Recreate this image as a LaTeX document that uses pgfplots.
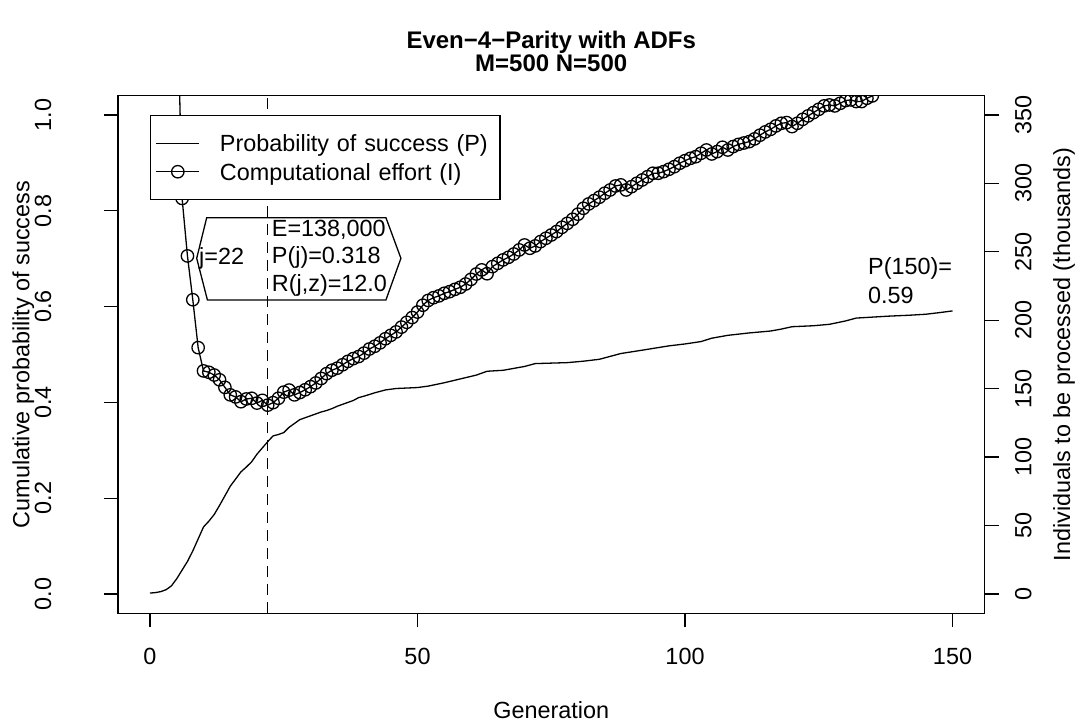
\documentclass[border=0pt]{standalone}
\usepackage{fontspec}
\setmainfont{Liberation Sans}
\usepackage{pgfplots}
\pgfplotsset{compat=1.18}
\pgfplotstableread{
g P
0 0.002
1 0.003
2 0.005
3 0.009
4 0.017
5 0.032
6 0.050
7 0.068
8 0.090
9 0.115
10 0.140
11 0.152
12 0.166
13 0.185
14 0.205
15 0.225
16 0.240
17 0.255
18 0.265
19 0.276
20 0.292
21 0.305
22 0.318
23 0.330
24 0.333
25 0.337
26 0.348
27 0.356
28 0.364
29 0.368
30 0.372
31 0.376
32 0.380
33 0.383
34 0.387
35 0.392
36 0.396
37 0.400
38 0.404
39 0.410
40 0.413
42 0.420
44 0.426
46 0.429
48 0.430
50 0.431
52 0.434
55 0.441
58 0.449
61 0.457
63 0.465
66 0.467
70 0.475
72 0.481
75 0.482
78 0.483
81 0.486
84 0.490
88 0.502
92 0.509
97 0.518
100 0.522
103 0.527
105 0.534
108 0.540
112 0.545
116 0.549
118 0.553
120 0.558
124 0.560
127 0.563
130 0.570
132 0.576
135 0.578
138 0.580
142 0.582
145 0.584
148 0.588
150 0.591
}\Ptable
\pgfplotstableread{
g I
5 455
6 289
7 247
8 215
9 180
10 163
11 162
12 160
13 156.5
14 151
15 145.5
16 144
17 140.5
18 142.5
19 143
20 139.5
21 141.5
22 138
23 139.8
24 143
25 147.5
26 149
27 145.5
28 147.2
29 149.2
30 151.5
31 154.2
32 157.5
33 161
34 163.5
35 165
36 167.5
37 170
38 172
39 173.5
40 176
41 179
42 181
43 183.5
44 186.5
45 189
46 191.5
47 195
48 198.5
49 202
50 206
51 211
52 214.5
53 216.5
54 217.8
55 219.7
56 220.9
57 222.6
58 224.1
59 226.5
60 229.9
61 233.8
62 236.8
63 234
64 239.2
65 241.6
66 244.1
67 246
68 248.4
69 251.4
70 255
71 252.6
72 254.3
73 257.5
74 259.9
75 262.3
76 264.8
77 267.9
78 270.8
79 273.8
80 277.5
81 281.8
82 285
83 287.4
84 289.9
85 292.8
86 295.2
87 298.1
88 298.9
89 295.2
90 297.6
91 300.1
92 302.5
93 304.9
94 307.4
95 307.4
96 308.6
97 310.3
98 312.2
99 314.7
100 316.6
101 318.3
102 319.5
103 322
104 324.4
105 321.5
106 323.2
107 326.4
108 324.4
109 326.9
110 328.5
111 329.5
112 330.5
113 332.5
114 335.2
115 337.6
116 339.5
117 342
118 343.9
119 344.4
120 341.5
121 343.9
122 346.8
123 349.3
124 351.7
125 354.1
126 356.6
127 357.3
128 356.6
129 358.5
130 360.5
131 361
132 359.8
133 359.8
134 362.2
135 363.9
136 365.8
137 367
138 369
139 371
140 373
}\Itable
\begin{document}
\fontsize{23.4bp}{28bp}\selectfont
\begin{tikzpicture}[x=1bp,y=1bp]
\path[use as bounding box] (0,0) rectangle (1084,722);
\begin{axis}[
  at={(117.9bp,108.8bp)}, anchor=south west, scale only axis,
  width=866.7bp, height=517.4bp,
  xmin=-6, xmax=156, ymin=-0.04, ymax=1.04,
  tick pos=left, tick align=outside, major tick length=14bp,
  xtick={0,50,100,150}, xticklabels={0,50,100,150},
  ytick={0,0.2,0.4,0.6,0.8,1}, yticklabels={0.0,0.2,0.4,0.6,0.8,1.0},
  axis line style={line width=1.3bp}, every tick/.style={line width=1.3bp, black},
  xticklabel style={anchor=north, inner sep=0pt},
  xticklabel shift=20.7bp,
  yticklabel style={rotate=90, anchor=south, inner sep=0pt},
  yticklabel shift=52.4bp,
  xlabel={Generation}, ylabel={Cumulative probability of success},
  every axis x label/.style={at={(axis description cs:0.5,-0.1866)}, anchor=center, inner sep=0pt},
  every axis y label/.style={at={(axis description cs:-0.1090,0.5)}, anchor=center, rotate=90, inner sep=0pt},
  title={Even−4−Parity with ADFs\\M=500 N=500},
  every axis title/.style={at={(axis description cs:0.5,1.0861)}, anchor=center, align=center, inner sep=0pt, font=\fontsize{24bp}{21.5bp}\selectfont\bfseries},
]
\addplot[black, line width=1.3bp] table[x=g, y=P] {\Ptable};
\addplot[black, line width=1.3bp, dash pattern=on 11bp off 7bp] coordinates {(22,-0.04) (22,1.04)};
\draw[line width=1.3bp] (axis cs:10.6,0.7856) -- (axis cs:8.73,0.7008) -- (axis cs:10.73,0.6138) -- (axis cs:44.1,0.6138) -- (axis cs:46.9,0.7008) -- (axis cs:44.1,0.7856) -- cycle;
\node[anchor=center, inner sep=0pt] at (axis cs:13.4,0.701) {j=22};
\node[anchor=west, align=left, inner sep=0pt, font=\fontsize{23.4bp}{27.5bp}\selectfont] at (axis cs:22.75,0.701) {E=138,000\\P(j)=0.318\\R(j,z)=12.0};
\node[anchor=west, align=left, inner sep=0pt, font=\fontsize{23.4bp}{28.3bp}\selectfont] at (axis cs:134.2,0.654) {P(150)=\\0.59};
\end{axis}
\begin{axis}[
  at={(117.9bp,108.8bp)}, anchor=south west, scale only axis,
  width=866.7bp, height=517.4bp,
  xmin=-6, xmax=156, ymin=-14, ymax=364,
  axis x line=none, axis y line*=right,
  tick align=outside, major tick length=14bp,
  ytick={0,50,100,150,200,250,300,350}, yticklabels={0,50,100,150,200,250,300,350},
  axis line style={line width=1.3bp}, every tick/.style={line width=1.3bp, black},
  yticklabel style={rotate=90, anchor=north, inner sep=0pt},
  yticklabel shift=16.3bp,
  ylabel={Individuals to be processed (thousands)},
  every axis y label/.style={at={(axis description cs:1.0916,0.5)}, anchor=center, rotate=90, inner sep=0pt},
  clip marker paths=true,
  legend image code/.code={\draw[mark repeat=2,mark phase=2,#1] plot coordinates {(0bp,0bp) (21.5bp,0bp) (43bp,0bp)};},
  legend cell align=left,
  legend style={at={(axis description cs:0.03704,0.9629)}, anchor=north west, draw=black, line width=1.3bp, fill=white,
    inner xsep=5bp, inner ysep=13.5bp, row sep=0pt, column sep=20bp,
    nodes={inner sep=0pt, text height=22.5bp, text depth=5.9bp, text width=275bp, align=left}},
]
\addlegendimage{black, line width=1.3bp}
\addlegendentry{Probability of success (P)}
\addplot[black, line width=1.3bp, mark=o, mark size=6.2bp, mark options={solid, line width=1.3bp}] table[x=g, y=I] {\Itable};
\addlegendentry{Computational effort (I)}
\end{axis}
\end{tikzpicture}
\end{document}
